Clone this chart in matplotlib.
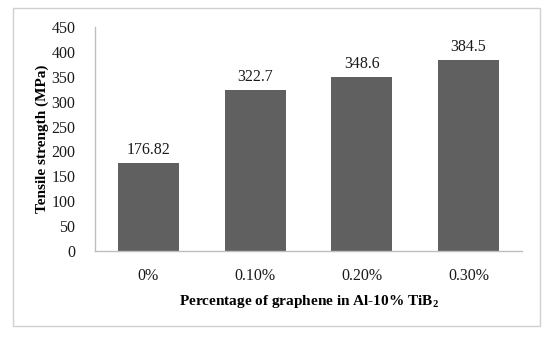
import matplotlib.pyplot as plt
from matplotlib.patches import Rectangle

categories = ["0%", "0.10%", "0.20%", "0.30%"]
strength = [176.82, 322.7, 348.6, 384.5]
value_labels = ["176.82", "322.7", "348.6", "384.5"]

plt.rcParams['font.family'] = ['Liberation Serif', 'DejaVu Serif']
plt.rcParams['mathtext.fontset'] = 'custom'
plt.rcParams['mathtext.rm'] = 'Liberation Serif'
plt.rcParams['mathtext.bf'] = 'Liberation Serif:bold'

fig = plt.figure(figsize=(5.5, 3.37), dpi=100)
ax = fig.add_axes([0.1727, 0.2552, 0.7763, 0.6648])

# outer frame around the whole chart
fig.patches.append(Rectangle((13 / 550, 1 - 326 / 337), 527 / 550, 318 / 337,
                             transform=fig.transFigure, fill=False,
                             edgecolor='#d0d0d0', linewidth=1.0))

x = range(len(categories))
bars = ax.bar(x, strength, width=0.57, color='#606060')
for b, lab in zip(bars, value_labels):
    ax.text(b.get_x() + b.get_width() / 2, b.get_height() + 10, lab,
            ha='center', va='bottom', fontsize=11.5, color='#1a1a1a')

ax.set_xlim(-0.5, 3.5)
ax.set_ylim(0, 450)
ax.set_yticks(range(0, 451, 50))
ax.set_xticks(list(x))
ax.set_xticklabels(categories)
ax.tick_params(axis='both', length=0, labelsize=11.5, colors='#1a1a1a')
ax.tick_params(axis='y', pad=14)
ax.tick_params(axis='x', pad=12)

for s in ['top', 'right']:
    ax.spines[s].set_visible(False)
for s in ['left', 'bottom']:
    ax.spines[s].set_color('#bfbfbf')
    ax.spines[s].set_linewidth(1.0)

ax.set_ylabel('Tensile strength (MPa)', fontsize=11, fontweight='bold', labelpad=2)
ax.set_xlabel('Percentage of graphene in Al-10% TiB$_\\mathbf{2}$', fontsize=11,
              fontweight='bold', labelpad=7)

fig.savefig('out.png', dpi=100)
